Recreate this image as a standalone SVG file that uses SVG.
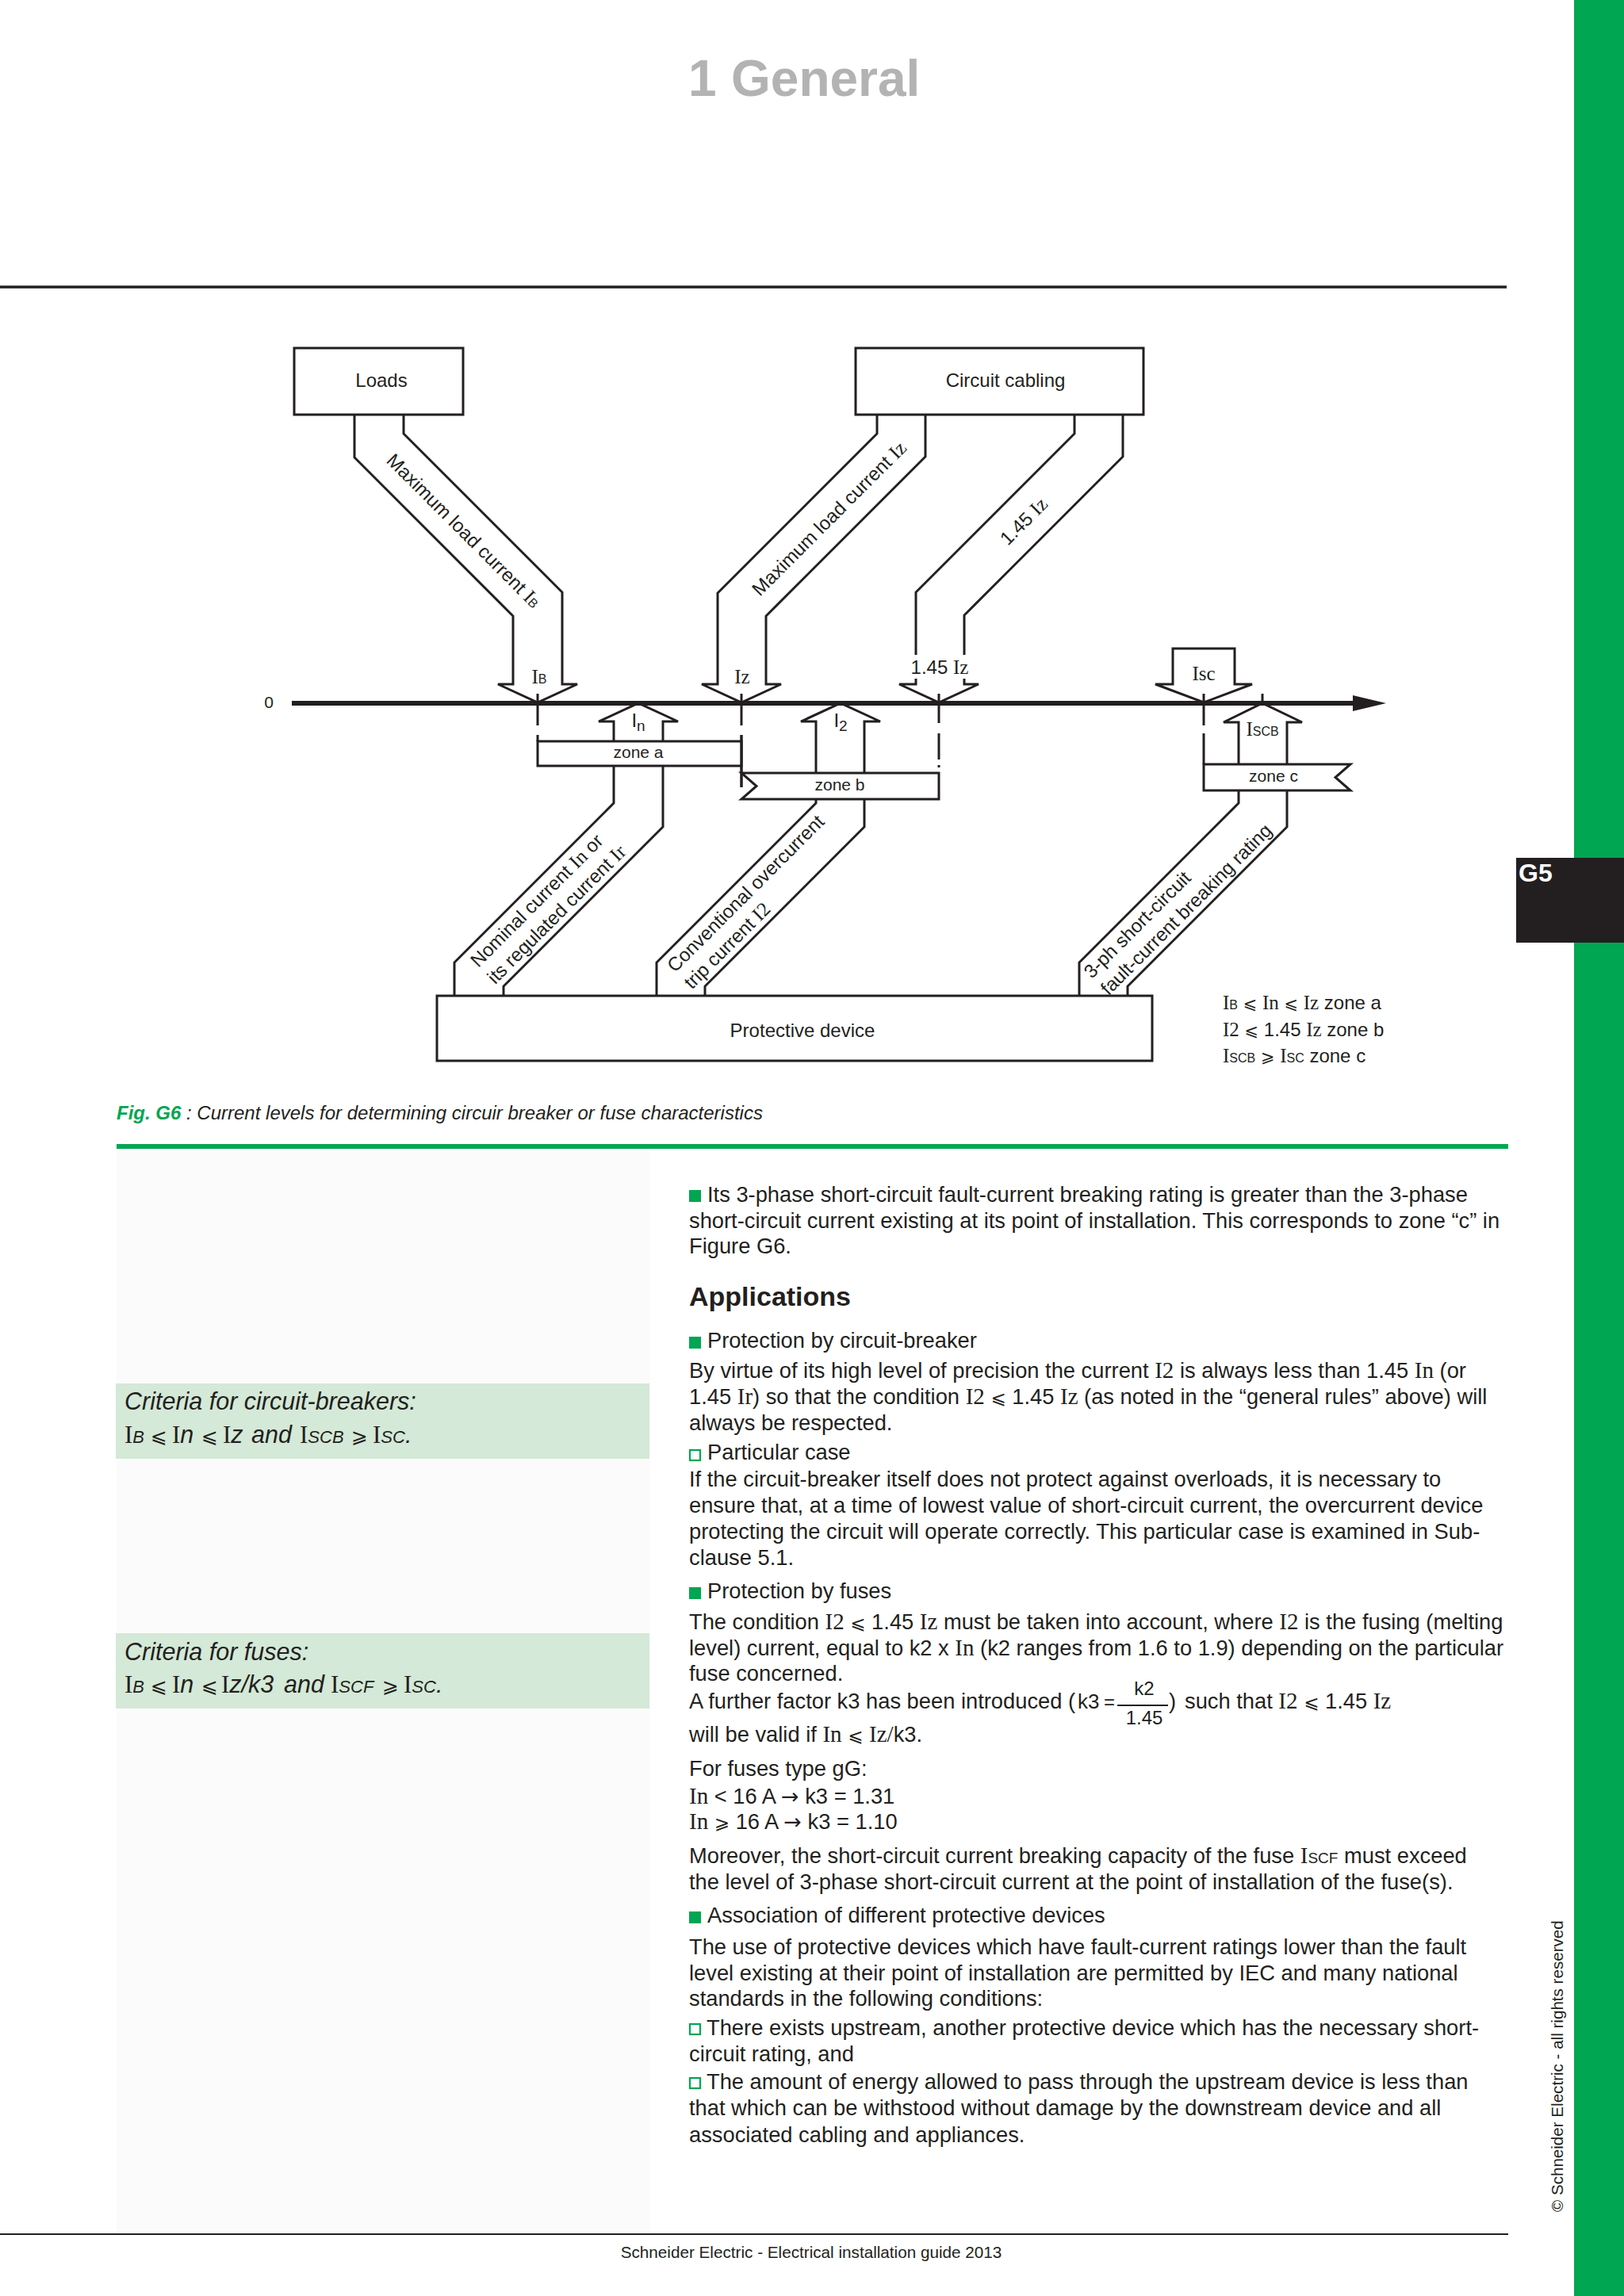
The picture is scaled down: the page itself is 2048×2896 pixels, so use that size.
<svg xmlns="http://www.w3.org/2000/svg" width="2048" height="2896" viewBox="0 0 2048 2896">
<style>
text{font-family:"Liberation Sans",Arial,"DejaVu Sans",sans-serif;fill:#231f20}
.s{font-family:"Liberation Serif","Times New Roman",serif}
.m{font-family:"DejaVu Sans",sans-serif}
.ln{fill:none;stroke:#231f20;stroke-width:3;stroke-linejoin:miter}
.box{fill:#fff;stroke:#231f20;stroke-width:3}
.dg{font-size:24px}
.b{font-size:27.3px}
.bs{font-family:"Liberation Serif","Times New Roman",serif;font-size:29px}
.bm{font-family:"DejaVu Sans",sans-serif;font-size:23px}
.ar{font-family:"DejaVu Sans",sans-serif;font-size:27px}
.g{fill:#00a651}
.gs{fill:none;stroke:#00a651;stroke-width:2.2}
.it{font-style:italic;font-size:30.5px}
.ci{font-family:"Liberation Serif","Times New Roman",serif;font-style:normal;font-size:31px}
.cm{font-family:"DejaVu Sans",sans-serif;font-style:normal;font-size:25px}
</style>
<rect width="2048" height="2896" fill="#fff"/>
<rect x="147" y="1452" width="673" height="1366" fill="#fbfbfb"/>
<rect x="1985" y="0" width="63" height="2896" class="g"/>
<g id="tab-g5"><rect x="1912" y="1082" width="136" height="107" fill="#231f20"/><text x="1915" y="1112" font-size="32" font-weight="bold" style="fill:#fff">G5</text></g>
<text y="121" font-size="64" font-weight="bold" style="fill:#b3b3b3"><tspan x="868">1</tspan><tspan x="922">General</tspan></text>
<line x1="0" y1="362" x2="1900" y2="362" stroke="#231f20" stroke-width="3.5"/>

<!-- Diagram -->
<g id="axis">
<line x1="368" y1="887" x2="1712" y2="887" stroke="#231f20" stroke-width="6"/>
<polygon points="1706,877 1748,887 1706,897" fill="#231f20"/>
<text x="339" y="893" text-anchor="middle" font-size="21">0</text>
<path class="ln" d="M678,875V915M678,927V935M935,875V915M935,927V993M1184,875V912M1184,925V958M1184,965V968M1518,875V915M1518,925V964M1592,875V887"/>
</g>

<g id="connectors">
<path class="ln" d="M447,523V577L647,777V863H628L678,886L728,863H709V747L509,547V523"/>
<path class="ln" d="M1106,523V547L905,748V863H885L935,886L985,863H966V777L1167,576V523"/>
<path class="ln" d="M1355,523V547L1155,747V863H1134L1184,886L1234,863H1216V776L1416,576V523"/>
<path class="ln" d="M1479,863V818H1557V863H1579L1518,886L1457,863Z"/>
<path class="ln" d="M774,935V910H755L805,887L855,910H836V935"/>
<path class="ln" d="M774,966V1013L573,1214V1256M836,966V1043L635,1244V1256"/>
<path class="ln" d="M1029,975V910H1010L1060,887L1110,910H1090V975"/>
<path class="ln" d="M1029,1008V1013L828,1214V1256M1090,1008V1043L889,1244V1256"/>
<path class="ln" d="M1562,964V911H1543L1592,887L1642,911H1623V964"/>
<path class="ln" d="M1562,997V1013L1361,1214V1256M1623,997V1043L1422,1244V1256"/>
<text class="dg" transform="rotate(45)" x="887" y="68" text-anchor="middle">Maximum load current <tspan class="s" font-size="25">I</tspan><tspan font-size="16">B</tspan></text>
<text class="dg" transform="rotate(-45)" x="277" y="1210" text-anchor="middle">Maximum load current <tspan class="s" font-size="25">Iz</tspan></text>
<text class="dg" transform="rotate(-45)" x="448" y="1386" text-anchor="middle">1.45 <tspan class="s" font-size="25">Iz</tspan></text>
<g transform="rotate(-45)">
<text class="dg" x="-437" y="1290">Nominal current <tspan class="s" font-size="25">In</tspan> or</text>
<text class="dg" x="-437" y="1320">its regulated current <tspan class="s" font-size="25">Ir</tspan></text>
<text class="dg" x="-266" y="1470">Conventional overcurrent</text>
<text class="dg" x="-266" y="1500">trip current <tspan class="s" font-size="25">I2</tspan></text>
<text class="dg" x="100" y="1847">3-ph short-circuit</text>
<text class="dg" x="100" y="1877">fault-current breaking rating</text>
</g>
<text x="680" y="862" text-anchor="middle"><tspan class="s" font-size="25">I</tspan><tspan font-size="16">B</tspan></text>
<text x="936" y="862" text-anchor="middle" class="s" font-size="25">Iz</text>
<rect x="1146" y="826" width="79" height="30" fill="#fff"/>
<text x="1185" y="850" text-anchor="middle" class="dg">1.45 <tspan class="s" font-size="25">Iz</tspan></text>
<text x="1518" y="858" text-anchor="middle" class="s" font-size="25">Isc</text>
<text x="805" y="917" text-anchor="middle" font-size="24">I<tspan font-size="19" dy="5">n</tspan></text>
<text x="1060" y="917" text-anchor="middle" font-size="24">I<tspan font-size="19" dy="5">2</tspan></text>
<text x="1592" y="928" text-anchor="middle"><tspan class="s" font-size="25">I</tspan><tspan font-size="16">SCB</tspan></text>
</g>

<g id="loads"><rect class="box" x="371" y="439" width="213" height="84"/><text class="dg" x="481" y="488" text-anchor="middle">Loads</text></g>
<g id="circuit-cabling"><rect class="box" x="1079" y="439" width="363" height="84"/><text class="dg" x="1268" y="488" text-anchor="middle">Circuit cabling</text></g>
<g id="protective-device"><rect class="box" x="551" y="1256" width="902" height="82"/><text class="dg" x="1012" y="1308" text-anchor="middle">Protective device</text></g>
<g id="zone-a"><rect class="box" x="678" y="935" width="257" height="31"/><text x="805" y="956" text-anchor="middle" font-size="21">zone a</text></g>
<g id="zone-b"><polygon class="box" points="935,975 1184,975 1184,1008 935,1008 954,991.5"/><text x="1059" y="997" text-anchor="middle" font-size="21">zone b</text></g>
<g id="zone-c"><polygon class="box" points="1518,964 1703,964 1684,980.5 1703,997 1518,997"/><text x="1606" y="986" text-anchor="middle" font-size="21">zone c</text></g>
<path class="ln" d="M935,927V993"/>

<g id="legend" font-size="24">
<text x="1542" y="1273"><tspan class="s" font-size="25">I</tspan><tspan font-size="16">B</tspan> <tspan class="m" font-size="21">⩽</tspan> <tspan class="s" font-size="25">In</tspan> <tspan class="m" font-size="21">⩽</tspan> <tspan class="s" font-size="25">Iz</tspan> zone a</text>
<text x="1542" y="1307"><tspan class="s" font-size="25">I2</tspan> <tspan class="m" font-size="21">⩽</tspan> 1.45 <tspan class="s" font-size="25">Iz</tspan> zone b</text>
<text x="1542" y="1340"><tspan class="s" font-size="25">I</tspan><tspan font-size="16">SCB</tspan> <tspan class="m" font-size="21">⩾</tspan> <tspan class="s" font-size="25">I</tspan><tspan font-size="16">SC</tspan> zone c</text>
</g>

<text x="147" y="1412" font-size="24" font-style="italic"><tspan font-weight="bold" style="fill:#00a651">Fig. G6</tspan> : Current levels for determining circuir breaker or fuse characteristics</text>
<rect x="147" y="1443" width="1755" height="6" class="g"/>

<!-- criteria boxes -->
<g id="criteria-cb">
<rect x="146" y="1745" width="673" height="95" fill="#d4e9d7"/>
<text x="157" y="1778" class="it">Criteria for circuit-breakers:</text>
<text y="1820" class="it"><tspan x="157" class="ci">I</tspan><tspan font-size="22">B</tspan><tspan x="190" class="cm">⩽</tspan><tspan x="217" class="ci">I</tspan><tspan>n</tspan><tspan x="254" class="cm">⩽</tspan><tspan x="281" class="ci">I</tspan><tspan>z</tspan><tspan x="317">and</tspan><tspan x="378" class="ci">I</tspan><tspan font-size="22">SCB</tspan><tspan x="443" class="cm">⩾</tspan><tspan x="470" class="ci">I</tspan><tspan font-size="22">SC</tspan><tspan>.</tspan></text>
</g>
<g id="criteria-fuse">
<rect x="146" y="2060" width="673" height="95" fill="#d4e9d7"/>
<text x="157" y="2094" class="it">Criteria for fuses:</text>
<text y="2135" class="it"><tspan x="157" class="ci">I</tspan><tspan font-size="22">B</tspan><tspan x="190" class="cm">⩽</tspan><tspan x="217" class="ci">I</tspan><tspan>n</tspan><tspan x="254" class="cm">⩽</tspan><tspan x="279" class="ci">I</tspan><tspan>z/k3</tspan><tspan x="358">and</tspan><tspan x="417" class="ci">I</tspan><tspan font-size="22">SCF</tspan><tspan x="482" class="cm">⩾</tspan><tspan x="509" class="ci">I</tspan><tspan font-size="22">SC</tspan><tspan>.</tspan></text>
</g>

<!-- body text -->
<g id="body" class="b">
<rect x="869" y="1501" width="15" height="15" class="g"/>
<text x="892" y="1516" class="b">Its 3-phase short-circuit fault-current breaking rating is greater than the 3-phase</text>
<text x="869" y="1549" class="b">short-circuit current existing at its point of installation. This corresponds to zone “c” in</text>
<text x="869" y="1581" class="b">Figure G6.</text>
<text x="869" y="1647" font-size="34" font-weight="bold">Applications</text>
<rect x="869" y="1686" width="15" height="15" class="g"/>
<text x="892" y="1700" class="b">Protection by circuit-breaker</text>
<text x="869" y="1738" class="b">By virtue of its high level of precision the current <tspan class="bs">I2</tspan> is always less than 1.45 <tspan class="bs">In</tspan> (or</text>
<text x="869" y="1771" class="b">1.45 <tspan class="bs">Ir</tspan>) so that the condition <tspan class="bs">I2</tspan> <tspan class="bm">⩽</tspan> 1.45 <tspan class="bs">Iz</tspan> (as noted in the “general rules” above) will</text>
<text x="869" y="1804" class="b">always be respected.</text>
<rect x="870" y="1829" width="13" height="13" class="gs"/>
<text x="892" y="1841" class="b">Particular case</text>
<text x="869" y="1875" class="b">If the circuit-breaker itself does not protect against overloads, it is necessary to</text>
<text x="869" y="1908" class="b">ensure that, at a time of lowest value of short-circuit current, the overcurrent device</text>
<text x="869" y="1941" class="b">protecting the circuit will operate correctly. This particular case is examined in Sub-</text>
<text x="869" y="1974" class="b">clause 5.1.</text>
<rect x="869" y="2002" width="15" height="15" class="g"/>
<text x="892" y="2016" class="b">Protection by fuses</text>
<text x="869" y="2055" class="b">The condition <tspan class="bs">I2</tspan> <tspan class="bm">⩽</tspan> 1.45 <tspan class="bs">Iz</tspan> must be taken into account, where <tspan class="bs">I2</tspan> is the fusing (melting</text>
<text x="869" y="2088" class="b">level) current, equal to k2 x <tspan class="bs">In</tspan> (k2 ranges from 1.6 to 1.9) depending on the particular</text>
<text x="869" y="2120" class="b">fuse concerned.</text>
<text x="869" y="2155" class="b">A further factor k3 has been introduced (</text>
<text x="1359" y="2155" font-size="26">k3</text>
<text x="1392" y="2155" font-size="24">=</text>
<line x1="1409" y1="2151" x2="1473" y2="2151" stroke="#231f20" stroke-width="2"/>
<text x="1443" y="2138" font-size="24" text-anchor="middle">k2</text>
<text x="1443" y="2175" font-size="24" text-anchor="middle">1.45</text>
<text x="1474" y="2155" class="b">)</text>
<text x="1494" y="2155" class="b">such that <tspan class="bs">I2</tspan> <tspan class="bm">⩽</tspan> 1.45 <tspan class="bs">Iz</tspan></text>
<text x="869" y="2197" class="b">will be valid if <tspan class="bs">In</tspan> <tspan class="bm">⩽</tspan> <tspan class="bs">Iz/</tspan>k3.</text>
<text x="869" y="2240" class="b">For fuses type gG:</text>
<text x="869" y="2275" class="b"><tspan class="bs">In</tspan> &lt; 16 A <tspan class="ar">→</tspan> k3 = 1.31</text>
<text x="869" y="2307" class="b"><tspan class="bs">In</tspan> <tspan class="bm">⩾</tspan> 16 A <tspan class="ar">→</tspan> k3 = 1.10</text>
<text x="869" y="2350" class="b">Moreover, the short-circuit current breaking capacity of the fuse <tspan class="bs">I</tspan><tspan font-size="19">SCF</tspan> must exceed</text>
<text x="869" y="2383" class="b">the level of 3-phase short-circuit current at the point of installation of the fuse(s).</text>
<rect x="869" y="2411" width="15" height="15" class="g"/>
<text x="892" y="2425" class="b">Association of different protective devices</text>
<text x="869" y="2465" class="b">The use of protective devices which have fault-current ratings lower than the fault</text>
<text x="869" y="2498" class="b">level existing at their point of installation are permitted by IEC and many national</text>
<text x="869" y="2530" class="b">standards in the following conditions:</text>
<rect x="870" y="2553" width="13" height="13" class="gs"/>
<text x="891" y="2567" class="b">There exists upstream, another protective device which has the necessary short-</text>
<text x="869" y="2600" class="b">circuit rating, and</text>
<rect x="870" y="2621" width="13" height="13" class="gs"/>
<text x="891" y="2635" class="b">The amount of energy allowed to pass through the upstream device is less than</text>
<text x="869" y="2668" class="b">that which can be withstood without damage by the downstream device and all</text>
<text x="869" y="2702" class="b">associated cabling and appliances.</text>
</g>

<text transform="rotate(-90)" x="-2790" y="1971" font-size="20.6">© Schneider Electric - all rights reserved</text>
<line x1="0" y1="2818" x2="1902" y2="2818" stroke="#231f20" stroke-width="2"/>
<text x="1023" y="2848" text-anchor="middle" font-size="20.7">Schneider Electric - Electrical installation guide 2013</text>
</svg>
